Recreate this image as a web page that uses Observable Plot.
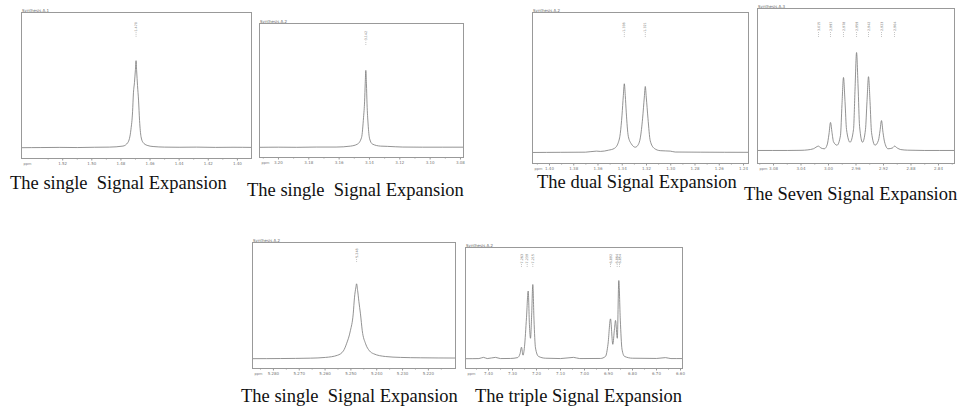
<!DOCTYPE html>
<html><head><meta charset="utf-8">
<script src="https://cdn.jsdelivr.net/npm/d3@7"></script>
<script src="https://cdn.jsdelivr.net/npm/@observablehq/plot@0.6"></script>
<style>
body{margin:0;background:#fff;}
#root{position:relative;width:960px;height:407px;overflow:hidden;background:#fff;}
.panel{position:absolute;}
.panel svg{display:block;overflow:visible;}
.cap{position:absolute;font-family:"Liberation Serif","Times New Roman",serif;font-size:18.5px;line-height:1;white-space:pre;color:#111;}
</style></head><body><div id="root"></div>
<script>
// ---------- data ----------
const titles = ["Synthesis A.1","Synthesis A.2","Synthesis A.2","Synthesis A.3","Synthesis A.2","Synthesis A.2"];
const captions = ["The single  Signal Expansion","The single  Signal Expansion","The dual Signal Expansion","The Seven Signal Expansion","The single  Signal Expansion","The triple Signal Expansion"];

const p1Ticks = [1.52,1.50,1.48,1.46,1.44,1.42,1.40];
const p1TickLabels = ["1.52","1.50","1.48","1.46","1.44","1.42","1.40"];
const p1Peaks = [1.4696];
const p1PeakLabels = ["1.470"];
const p1Spectrum = [[1.548,0.074],[1.535,0.075],[1.522,0.076],[1.510,0.075],[1.498,0.077],[1.488,0.078],[1.4786,0.085],[1.4752,0.11],[1.4731,0.20],[1.4720,0.32],[1.4714,0.45],[1.4707,0.52],[1.4701,0.60],[1.4696,0.67],[1.4692,0.60],[1.4686,0.50],[1.4679,0.40],[1.4672,0.26],[1.4662,0.15],[1.4648,0.11],[1.4620,0.09],[1.4579,0.082],[1.450,0.078],[1.440,0.077],[1.428,0.078],[1.415,0.076],[1.403,0.077],[1.3903,0.076]];

const p2Ticks = [3.20,3.18,3.16,3.14,3.12,3.10,3.08];
const p2TickLabels = ["3.20","3.18","3.16","3.14","3.12","3.10","3.08"];
const p2Peaks = [3.1424];
const p2PeakLabels = ["3.142"];
const p2Spectrum = [[3.2125,0.076],[3.200,0.077],[3.188,0.076],[3.175,0.078],[3.162,0.078],[3.1525,0.085],[3.1479,0.10],[3.1452,0.15],[3.1439,0.30],[3.1432,0.42],[3.1428,0.55],[3.1424,0.65],[3.1420,0.55],[3.1416,0.40],[3.1409,0.25],[3.1399,0.14],[3.1380,0.10],[3.1327,0.085],[3.128,0.083],[3.118,0.078],[3.105,0.077],[3.092,0.077],[3.078,0.077]];

const p3Ticks = [1.40,1.38,1.36,1.34,1.32,1.30,1.28,1.26,1.24];
const p3TickLabels = ["1.40","1.38","1.36","1.34","1.32","1.30","1.28","1.26","1.24"];
const p3Peaks = [1.3383,1.3210];
const p3PeakLabels = ["1.338","1.321"];
const p3Spectrum = [[1.414,0.073],[1.391,0.074],[1.3704,0.075],[1.3613,0.082],[1.358,0.080],[1.3514,0.088],[1.3465,0.10],[1.3432,0.14],[1.3416,0.20],[1.3402,0.32],[1.3391,0.45],[1.3383,0.528],[1.3375,0.45],[1.3367,0.34],[1.335,0.18],[1.3325,0.13],[1.3292,0.108],[1.3268,0.125],[1.3251,0.17],[1.3232,0.30],[1.3218,0.44],[1.321,0.51],[1.3202,0.44],[1.3188,0.30],[1.3169,0.15],[1.3136,0.10],[1.3087,0.085],[1.3004,0.082],[1.2963,0.076],[1.2757,0.075],[1.2359,0.074]];

const p4Ticks = [3.08,3.04,3.00,2.96,2.92,2.88,2.84];
const p4TickLabels = ["3.08","3.04","3.00","2.96","2.92","2.88","2.84"];
const p4Peaks = [3.0145,2.9971,2.9782,2.9592,2.9418,2.9229,2.9040];
const p4PeakLabels = ["3.015","2.997","2.978","2.959","2.942","2.923","2.904"];
const p4Spectrum = [[3.1033,0.084],[3.06,0.084],[3.04,0.085],[3.03,0.088],[3.022,0.095],[3.0145,0.112],[3.011,0.10],[3.006,0.095],[3.002,0.12],[2.9993,0.19],[2.9971,0.265],[2.9949,0.20],[2.9927,0.14],[2.9876,0.118],[2.9826,0.18],[2.9804,0.38],[2.9782,0.555],[2.976,0.40],[2.9738,0.22],[2.9687,0.137],[2.9636,0.22],[2.9614,0.48],[2.9592,0.716],[2.957,0.50],[2.9548,0.24],[2.9505,0.137],[2.9462,0.22],[2.944,0.40],[2.9418,0.56],[2.9396,0.40],[2.9374,0.20],[2.9323,0.118],[2.9273,0.15],[2.9251,0.21],[2.9229,0.277],[2.9207,0.20],[2.9185,0.14],[2.9134,0.095],[2.907,0.10],[2.904,0.112],[2.900,0.10],[2.895,0.09],[2.885,0.086],[2.86,0.084],[2.8167,0.084]];

const p5Ticks = [5.28,5.27,5.26,5.25,5.24,5.23,5.22];
const p5TickLabels = ["5.280","5.270","5.260","5.250","5.240","5.230","5.220"];
const p5Peaks = [5.2478];
const p5PeakLabels = ["5.248"];
const p5Spectrum = [[5.2881,0.078],[5.2773,0.079],[5.2657,0.082],[5.2598,0.088],[5.2552,0.105],[5.2529,0.14],[5.2517,0.196],[5.2502,0.30],[5.2491,0.434],[5.2486,0.566],[5.2481,0.64],[5.2478,0.672],[5.2474,0.62],[5.2469,0.53],[5.2463,0.434],[5.2456,0.30],[5.2443,0.196],[5.2428,0.14],[5.2412,0.117],[5.2366,0.095],[5.2308,0.088],[5.223,0.085],[5.2095,0.083]];

const p6Ticks = [7.40,7.30,7.20,7.10,7.00,6.90,6.80,6.70,6.60];
const p6TickLabels = ["7.40","7.30","7.20","7.10","7.00","6.90","6.80","6.70","6.60"];
const p6Peaks = [7.2625,7.2388,7.2154,6.8917,6.8638,6.8542];
const p6PeakLabels = ["7.263","7.239","7.215","6.892","6.864","6.854"];
const p6Spectrum = [[7.4958,0.081],[7.44,0.082],[7.4208,0.092],[7.405,0.082],[7.3708,0.092],[7.35,0.082],[7.3083,0.083],[7.2792,0.09],[7.2688,0.12],[7.2625,0.176],[7.2563,0.11],[7.25,0.18],[7.2417,0.42],[7.2346,0.64],[7.2292,0.35],[7.225,0.25],[7.22,0.45],[7.2154,0.694],[7.2104,0.40],[7.2042,0.17],[7.1917,0.10],[7.1625,0.085],[7.10,0.082],[7.0458,0.092],[7.02,0.082],[6.9333,0.083],[6.9125,0.10],[6.9021,0.20],[6.8917,0.41],[6.8821,0.20],[6.875,0.33],[6.8708,0.397],[6.8633,0.25],[6.8571,0.727],[6.8508,0.40],[6.8438,0.16],[6.8333,0.10],[6.80,0.085],[6.70,0.083],[6.6625,0.09],[6.64,0.082],[6.5917,0.082]];

// ---------- layout ----------
const layout = [
  {box:{l:21,t:12,r:251,b:158}, x:[1.5483,1.3903], mark:[0.83,0.945], cap:[10,189]},
  {box:{l:259,t:23,r:463,b:157}, x:[3.2125,3.078], mark:[0.836,0.948], cap:[247,196]},
  {box:{l:532,t:12,r:748,b:163}, x:[1.414,1.2359], mark:[0.834,0.947], cap:[537,188]},
  {box:{l:757,t:8,r:954,b:163}, x:[3.1033,2.8167], mark:[0.813,0.935], cap:[744,200]},
  {box:{l:252,t:242,r:455,b:368}, x:[5.2881,5.2095], mark:[0.841,0.952], cap:[241,402]},
  {box:{l:465,t:247,r:682,b:368}, x:[7.4958,6.5917], mark:[0.835,0.934], cap:[475,402]}
];
const panels = [
  [p1Spectrum,p1Ticks,p1TickLabels,p1Peaks,p1PeakLabels],
  [p2Spectrum,p2Ticks,p2TickLabels,p2Peaks,p2PeakLabels],
  [p3Spectrum,p3Ticks,p3TickLabels,p3Peaks,p3PeakLabels],
  [p4Spectrum,p4Ticks,p4TickLabels,p4Peaks,p4PeakLabels],
  [p5Spectrum,p5Ticks,p5TickLabels,p5Peaks,p5PeakLabels],
  [p6Spectrum,p6Ticks,p6TickLabels,p6Peaks,p6PeakLabels]
];

const root = document.getElementById("root");
const mL = 6, mR = 6, mT = 10, mB = 14;

panels.forEach(([spec, ticks, tickLabels, peaks, peakLabels], k) => {
  const L = layout[k];
  const w = L.box.r - L.box.l, h = L.box.b - L.box.t;
  const data = spec.map(([ppm, i]) => ({ppm, i}));
  const labelOf = new Map(ticks.map((t, j) => [t, tickLabels[j]]));
  const step = ticks[1] - ticks[0];
  const minor = [ticks[0] - step / 2, ...d3.pairs(ticks).map(([a, b]) => (a + b) / 2), ticks[ticks.length - 1] + step / 2]
    .filter(v => (v - L.x[0]) * (v - L.x[1]) < 0);
  const [lo, hi] = L.mark;
  const peakData = peaks.map((p, j) => ({p, label: peakLabels[j]}));
  const svg = Plot.plot({
    width: w + mL + mR, height: h + mT + mB,
    marginLeft: mL, marginRight: mR, marginTop: mT, marginBottom: mB,
    x: {domain: L.x},
    y: {domain: [0, 1], axis: null},
    style: {background: "transparent", fontFamily: "DejaVu Sans, sans-serif", overflow: "visible"},
    marks: [
      Plot.axisX(ticks, {anchor: "bottom", tickSize: 2.5, tickPadding: 1.5, fontSize: 4, tickFormat: d => labelOf.get(d), stroke: "#999", fill: "#777", label: null}),
      Plot.axisX(minor, {anchor: "bottom", tickSize: 1.6, tickFormat: () => "", stroke: "#aaa", label: null}),
      Plot.text(["ppm"], {frameAnchor: "bottom-left", dy: 6.5, dx: 2, fontSize: 3.5, fill: "#777", textAnchor: "start"}),
      Plot.text([titles[k]], {frameAnchor: "top-left", dy: -1, dx: 0.5, fontSize: 4, fill: "#666", textAnchor: "start", lineAnchor: "bottom"}),
      Plot.line(data, {x: "ppm", y: "i", curve: "monotone-x", stroke: "#777", strokeWidth: 0.8}),
      Plot.ruleX(peakData, {x: "p", y1: lo, y2: lo + (hi - lo) * 0.3, stroke: "#888", strokeWidth: 0.5, strokeDasharray: "1,1"}),
      Plot.text(peakData, {x: "p", y: lo + (hi - lo) * 0.34, text: "label", rotate: -90, textAnchor: "start", fontSize: 3.3, fill: "#777"}),
      Plot.frame({stroke: "#999", strokeWidth: 1})
    ]
  });
  const div = document.createElement("div");
  div.className = "panel";
  div.style.left = (L.box.l - mL) + "px";
  div.style.top = (L.box.t - mT) + "px";
  div.appendChild(svg);
  root.appendChild(div);

  const cap = document.createElement("div");
  cap.className = "cap";
  cap.textContent = captions[k];
  cap.style.left = L.cap[0] + "px";
  cap.style.top = (L.cap[1] - 15) + "px";
  root.appendChild(cap);
});
</script></body></html>
